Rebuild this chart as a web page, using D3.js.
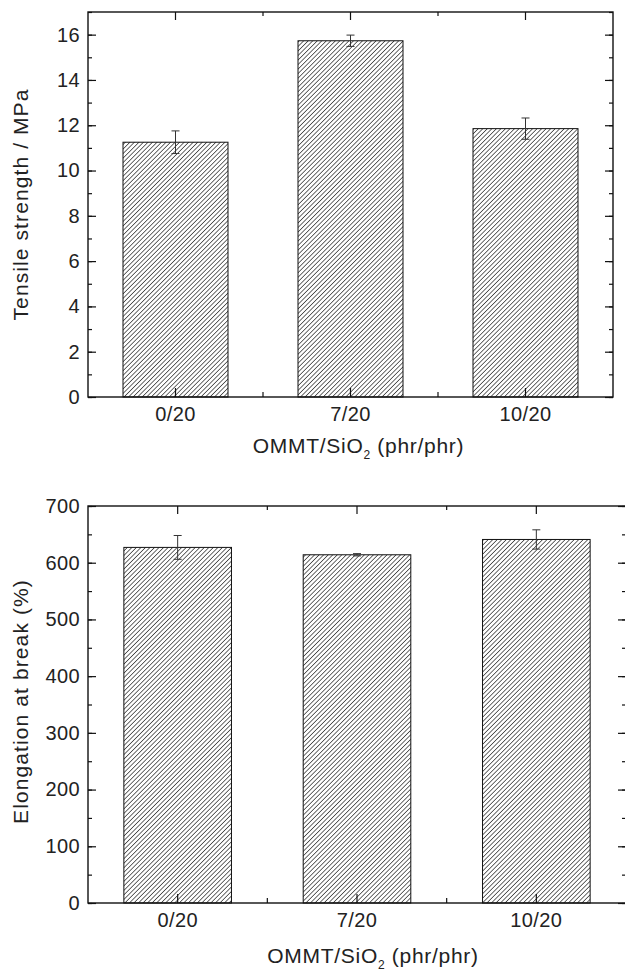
<!DOCTYPE html>
<html>
<head>
<meta charset="utf-8">
<script src="https://cdn.jsdelivr.net/npm/d3@7"></script>
<style>
  body { margin: 0; background: #fff; }
  svg { display: block; font-family: "Liberation Sans", Arial, sans-serif; }
</style>
</head>
<body>
<svg id="canvas" width="625" height="971"></svg>
<script>
let categories = ['0/20', '7/20', '10/20']

let tensile = [11.25, 15.73, 11.85]
let tensileErr = [0.5, 0.25, 0.47]

let elongation = [627, 614, 641]
let elongationErr = [21, 2, 17]

let tensileTicks = [0, 2, 4, 6, 8, 10, 12, 14, 16]
let elongationTicks = [0, 100, 200, 300, 400, 500, 600, 700]

let canvas = d3.select('#canvas')

// hatch pattern for bars
let defs = canvas.append('defs')
defs.append('pattern')
    .attr('id', 'hatch')
    .attr('patternUnits', 'userSpaceOnUse')
    .attr('width', 3.2)
    .attr('height', 3.2)
    .attr('patternTransform', 'rotate(45)')
    .append('line')
    .attr('x1', 0).attr('y1', 0)
    .attr('x2', 0).attr('y2', 3.2)
    .attr('stroke', '#111')
    .attr('stroke-width', 1.25)

let drawPanel = (opt) => {
    let xScale = d3.scaleBand()
        .domain(categories)
        .range([opt.left, opt.right])
        .paddingInner(0.4)
        .paddingOuter(0.2)
    let yScale = d3.scaleLinear()
        .domain(opt.domain)
        .range([opt.bottom, opt.top])

    let g = canvas.append('g')

    // bars
    g.selectAll('rect.bar')
        .data(opt.values)
        .enter()
        .append('rect')
        .attr('class', 'bar')
        .attr('x', (d, i) => xScale(categories[i]))
        .attr('y', (d) => yScale(d))
        .attr('width', xScale.bandwidth())
        .attr('height', (d) => yScale(opt.domain[0]) - yScale(d))
        .attr('fill', 'url(#hatch)')
        .attr('stroke', '#111')
        .attr('stroke-width', 1)

    // error bars
    let centre = (i) => xScale(categories[i]) + xScale.bandwidth() / 2
    let err = g.selectAll('g.err')
        .data(opt.values)
        .enter()
        .append('g')
        .attr('class', 'err')
        .attr('stroke', '#333')
        .attr('stroke-width', 1)
    err.append('line')
        .attr('x1', (d, i) => centre(i)).attr('x2', (d, i) => centre(i))
        .attr('y1', (d, i) => yScale(d - opt.errors[i]))
        .attr('y2', (d, i) => yScale(d + opt.errors[i]))
    err.append('line')
        .attr('x1', (d, i) => centre(i) - 4).attr('x2', (d, i) => centre(i) + 4)
        .attr('y1', (d, i) => yScale(d + opt.errors[i]))
        .attr('y2', (d, i) => yScale(d + opt.errors[i]))
    err.append('line')
        .attr('x1', (d, i) => centre(i) - 4).attr('x2', (d, i) => centre(i) + 4)
        .attr('y1', (d, i) => yScale(d - opt.errors[i]))
        .attr('y2', (d, i) => yScale(d - opt.errors[i]))

    // frame
    g.append('rect')
        .attr('x', opt.left)
        .attr('y', opt.top)
        .attr('width', opt.right - opt.left)
        .attr('height', opt.bottom - opt.top)
        .attr('fill', 'none')
        .attr('stroke', '#111')
        .attr('stroke-width', 1.4)

    // y axes (left with labels, right ticks only)
    let minorY = d3.range(opt.domain[0], opt.domain[1] + 1e-9, opt.minorStep)
    let leftAxis = g.append('g')
        .attr('transform', 'translate(' + opt.left + ',0)')
        .call(d3.axisLeft(yScale).tickValues(opt.ticks).tickSize(-8).tickPadding(8).tickFormat(d3.format('d')))
    let leftMinor = g.append('g')
        .attr('transform', 'translate(' + opt.left + ',0)')
        .call(d3.axisLeft(yScale).tickValues(minorY).tickSize(-4).tickFormat(''))
    let rightAxis = g.append('g')
        .attr('transform', 'translate(' + opt.right + ',0)')
        .call(d3.axisRight(yScale).tickValues(opt.ticks).tickSize(-8).tickFormat(''))
    let rightMinor = g.append('g')
        .attr('transform', 'translate(' + opt.right + ',0)')
        .call(d3.axisRight(yScale).tickValues(minorY).tickSize(-4).tickFormat(''))

    // x axes: major ticks at categories, minor ticks in between
    let centres = categories.map((c, i) => centre(i))
    let mids = centres.slice(1).map((c, i) => (c + centres[i]) / 2)
    let bottomAxis = g.append('g')
        .attr('transform', 'translate(0,' + opt.bottom + ')')
        .call(d3.axisBottom(xScale).tickSize(-9).tickPadding(10))
    let topAxis = g.append('g')
        .attr('transform', 'translate(0,' + opt.top + ')')
        .call(d3.axisTop(xScale).tickSize(-8).tickFormat(''))
    g.selectAll('line.xminor')
        .data(mids.concat(mids))
        .enter()
        .append('line')
        .attr('class', 'xminor')
        .attr('x1', (d) => d).attr('x2', (d) => d)
        .attr('y1', (d, i) => i < mids.length ? opt.bottom : opt.top)
        .attr('y2', (d, i) => i < mids.length ? opt.bottom - 5 : opt.top + 4)
        .attr('stroke', '#111')
        .attr('stroke-width', 1.2)

    let axes = [leftAxis, leftMinor, rightAxis, rightMinor, bottomAxis, topAxis]
    axes.forEach((a) => {
        a.select('.domain').remove()
        a.selectAll('line').attr('stroke', '#111').attr('stroke-width', 1.2)
        a.selectAll('text').attr('font-size', 20).attr('fill', '#222')
            .attr('letter-spacing', 0.4)
            .attr('font-family', '"Liberation Sans", Arial, sans-serif')
    })

    // axis titles
    let xt = g.append('text')
        .attr('x', (opt.left + opt.right) / 2 + opt.titleShift)
        .attr('y', opt.bottom + opt.titleGap)
        .attr('text-anchor', 'middle')
        .attr('font-size', 21)
        .attr('letter-spacing', 0.7)
        .attr('fill', '#222')
    xt.append('tspan').text('OMMT/SiO')
    xt.append('tspan').text('2').attr('font-size', 12).attr('dy', 6)
    xt.append('tspan').text(' (phr/phr)').attr('dy', -6)

    g.append('text')
        .attr('transform', 'translate(28,' + ((opt.top + opt.bottom) / 2 + opt.yShift) + ') rotate(-90)')
        .attr('text-anchor', 'middle')
        .attr('font-size', 21)
        .attr('letter-spacing', 1.1)
        .attr('fill', '#222')
        .text(opt.yTitle)
}

drawPanel({
    left: 88, right: 613, top: 12, bottom: 397,
    domain: [0, 17], ticks: tensileTicks, minorStep: 1,
    values: tensile, errors: tensileErr,
    yTitle: 'Tensile strength / MPa',
    titleGap: 56, titleShift: 8, yShift: 0
})

drawPanel({
    left: 88, right: 626, top: 506, bottom: 903,
    domain: [0, 700], ticks: elongationTicks, minorStep: 50,
    values: elongation, errors: elongationErr,
    yTitle: 'Elongation at break (%)',
    titleGap: 60, titleShift: 16, yShift: -3
})
</script>
</body>
</html>
